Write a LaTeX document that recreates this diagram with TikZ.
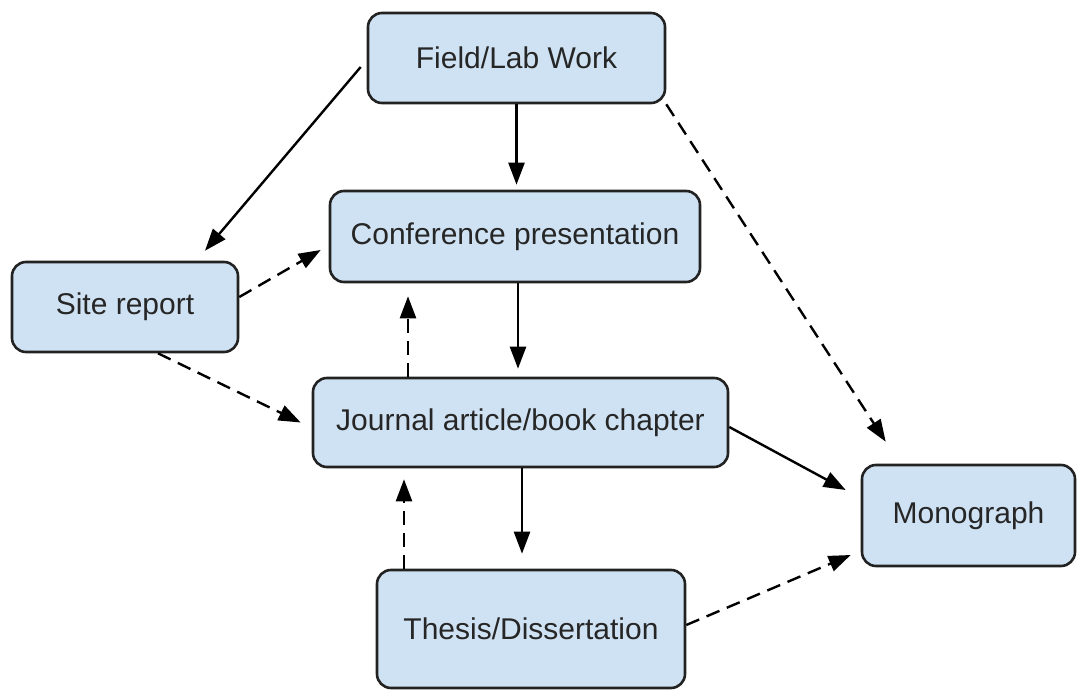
\documentclass[tikz,border=0pt]{standalone}
\usepackage{fontspec}
\setmainfont{Liberation Sans}
\usetikzlibrary{positioning, arrows.meta, calc}

\definecolor{boxblue}{HTML}{CFE2F3}
\definecolor{boxline}{HTML}{222222}

\begin{document}
\begin{tikzpicture}[
    x=0.5pt, y=-0.5pt,
    stage/.style={
        draw=boxline,
        fill=boxblue,
        line width=1.3pt,
        rounded corners=7pt,
        font=\fontsize{15}{18}\selectfont,
        text=black!85,
        inner sep=0pt
    },
    flow/.style={
        -{Triangle[length=11pt, width=8pt]},
        line width=1.2pt,
        draw=black
    },
    optflow/.style={
        flow,
        dash pattern=on 7pt off 4pt
    }
]

\useasboundingbox (0,0) rectangle (1077,690);

% ===== Stufen der Publikation =====
\node[stage, minimum width=148.5pt, minimum height=45pt] (field) at (516.5,58) {Field/Lab Work};
\node[stage, minimum width=185pt, minimum height=45.5pt] (conf) at (515,236.5) {Conference presentation};
\node[stage, minimum width=113pt, minimum height=45pt] (site) at (125,307) {Site report};
\node[stage, minimum width=207.5pt, minimum height=44.5pt] (journal) at (520.5,422.5) {Journal article/book chapter};
\node[stage, minimum width=106.5pt, minimum height=50.5pt] (mono) at (968.5,515.5) {Monograph};
\node[stage, minimum width=154pt, minimum height=59pt] (thesis) at (531,629) {Thesis/Dissertation};

% ===== feste Wege (durchgezogen) =====
\draw[flow] ([xshift=-3pt, yshift=-4.5pt]field.west) -- ([xshift=40pt, yshift=5pt]site.north);
\draw[flow] (field.south) -- ([xshift=0.75pt, yshift=2.5pt]conf.north);
\draw[flow] ([xshift=1.5pt]conf.south) -- ([xshift=-1.25pt, yshift=4pt]journal.north);
\draw[flow] ([yshift=-2.25pt]journal.east) -- ([xshift=-7.5pt, yshift=12.75pt]mono.west);
\draw[flow] ([xshift=0.75pt]journal.south) -- ([xshift=-4.5pt, yshift=7.5pt]thesis.north);

% ===== optionale Wege (gestrichelt) =====
\draw[optflow] (field.south east) -- ([xshift=12.5pt, yshift=11pt]mono.north west);
\draw[optflow] ([yshift=5pt]site.east) -- ([xshift=-4pt, yshift=-6.75pt]conf.west);
\draw[optflow] ([xshift=16.5pt]site.south) -- ([xshift=-5.5pt]journal.west);
\draw[optflow] ([xshift=-56.25pt]journal.north) -- ([xshift=-53.5pt, yshift=-6.5pt]conf.south);
\draw[optflow] ([xshift=-63.5pt]thesis.north) -- ([xshift=-58.25pt, yshift=-5.5pt]journal.south);
\draw[optflow] ([yshift=2pt]thesis.east) -- ([xshift=-5pt, yshift=-19.75pt]mono.west);

\end{tikzpicture}
\end{document}
